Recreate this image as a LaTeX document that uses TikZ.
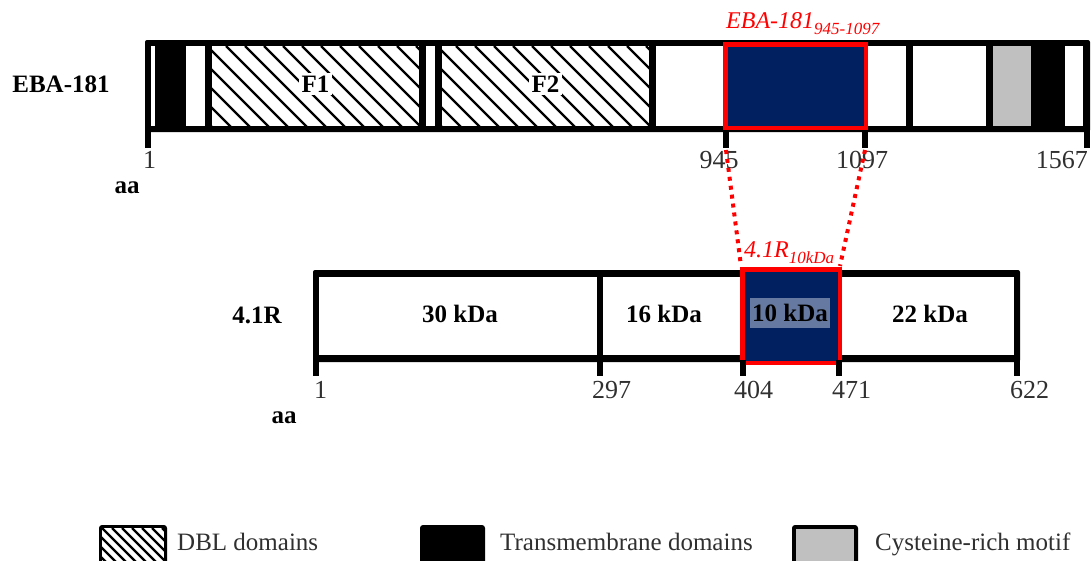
\documentclass[tikz,border=0pt]{standalone}
\usepackage{fontspec}
\setmainfont{Liberation Serif}
\definecolor{navy}{HTML}{002060}
\definecolor{hilite}{HTML}{6679A0}
\definecolor{cysgray}{HTML}{C0C0C0}
\definecolor{txtgray}{HTML}{303030}
\newcommand\hatchfill[5]{%
  \begin{scope}
    \clip (#1,#2) rectangle (#3,#4);
    \fill[white] (#1,#2) rectangle (#3,#4);
    \foreach \k in {0,...,40} {\draw[line width=2.3pt] ({#1-100+\k*#5},#2) -- ++(110,110);}
  \end{scope}}
\begin{document}
\begin{tikzpicture}[x=1pt,y=-1pt,
  every node/.style={inner sep=0pt, font=\fontsize{25}{30}\selectfont},
  boldlbl/.style={font=\bfseries\fontsize{25}{30}\selectfont},
  numlbl/.style={text=txtgray, font=\fontsize{26}{30}\selectfont},
  redlbl/.style={text=red, font=\itshape\fontsize{24}{30}\selectfont},
  redbox/.style={draw=red, line width=4.5pt},
  reddots/.style={draw=red, line width=4pt, dash pattern=on 4pt off 5pt},
  whiteseg/.style={fill=white},
  legtext/.style={anchor=base west, text=txtgray, font=\fontsize{25}{30}\selectfont}]
\useasboundingbox (0,0) rectangle (1092,560);
% ---------------- EBA-181 bar ----------------
\fill[rounded corners=2pt] (145,40) rectangle (1090,132);
\foreach \a/\b in {151/155,186/205,426/435,656/723,868/906,913/986,1065/1083}
  {\fill[whiteseg] (\a,46) rectangle (\b,126);}
\hatchfill{212}{46}{419}{126}{19}
\hatchfill{442}{46}{649}{126}{19}
\fill[cysgray] (993,46) rectangle (1031,126);
\fill[navy] (723,42) rectangle (868,130);
\draw[redbox] (725.25,44.25) rectangle (865.75,127.75);
% ticks
\foreach \a/\b in {145/151,723/729,862/868,1084/1090}
  {\fill (\a,130) rectangle (\b,148);}
\coordinate (t945) at (726,150);
\coordinate (t1097) at (865,150);
\node[fill=white, inner sep=3pt, boldlbl] (f1) at (315.5,84) {F1};
\node[fill=white, inner sep=3pt, boldlbl] (f2) at (545.5,84) {F2};
\node[boldlbl] (eba) at (61,84) {EBA-181};
\node[numlbl, anchor=west] (n1) at (143,160) {1};
\node[numlbl] (n945) at (719,160) {945};
\node[numlbl] (n1097) at (862,160) {1097};
\node[numlbl, anchor=east] (n1567) at (1088,160) {1567};
\node[boldlbl] (aa1) at (127,188) {aa};
\node[redlbl, anchor=base west] (ebared) at (726,28) {EBA-181\raisebox{-6pt}{\fontsize{17}{18}\selectfont 945-1097}};
% ---------------- 4.1R bar ----------------
\fill[rounded corners=2pt] (313,270) rectangle (1020,362);
\foreach \a/\b in {319/597,603/740,842/1014}
  {\fill[whiteseg] (\a,277) rectangle (\b,355);}
\fill[navy] (740,267) rectangle (842,365);
\draw[redbox] (742.25,269.25) rectangle (839.75,362.75);
\foreach \a/\b in {313/319,597/603,740/746,836/842,1014/1020}
  {\fill (\a,360) rectangle (\b,376);}
\coordinate (b404) at (741,266);
\coordinate (b471) at (840,266);
\node[boldlbl] (r41) at (257,315) {4.1R};
\node[boldlbl] (k30) at (460,314) {30 kDa};
\node[boldlbl] (k16) at (664,314) {16 kDa};
\node[boldlbl, fill=hilite, minimum width=80pt, minimum height=30pt] (k10) at (790,313) {10 kDa};
\node[boldlbl] (k22) at (930,314) {22 kDa};
\node[numlbl, anchor=west] (m1) at (314,390) {1};
\node[numlbl, anchor=west] (m297) at (592,390) {297};
\node[numlbl, anchor=west] (m404) at (734,390) {404};
\node[numlbl, anchor=west] (m471) at (832,390) {471};
\node[numlbl, anchor=west] (m622) at (1010,390) {622};
\node[boldlbl] (aa2) at (284,418) {aa};
\node[redlbl, anchor=base west] (r41red) at (744,257) {4.1R\raisebox{-6pt}{\fontsize{17}{18}\selectfont 10kDa}};
% dotted connectors
\draw[reddots] (t945) -- (b404);
\draw[reddots] (t1097) -- (b471);
% ---------------- legend ----------------
\fill[rounded corners=3pt] (99,525) rectangle (167,595);
\hatchfill{102}{528}{164}{592}{10}
\fill[rounded corners=3pt] (420,525) rectangle (485,595);
\fill[rounded corners=3pt] (792,525) rectangle (858,595);
\fill[cysgray] (796,529) rectangle (854,595);
\node[legtext] (lg1) at (177,550) {DBL domains};
\node[legtext] (lg2) at (500,550) {Transmembrane domains};
\node[legtext] (lg3) at (875,550) {Cysteine-rich motif};
\end{tikzpicture}
\end{document}
